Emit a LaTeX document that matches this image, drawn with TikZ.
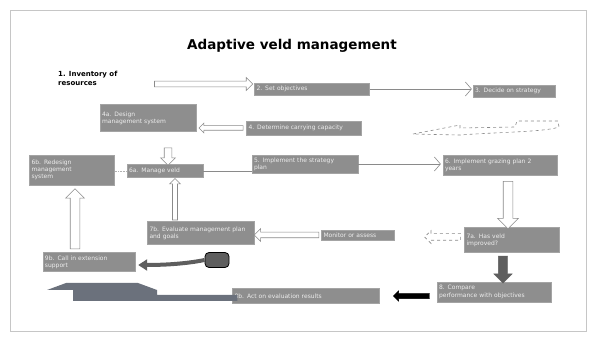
\documentclass[tikz,border=0pt]{standalone}
\usepackage{fontspec}
\setmainfont{DejaVu Sans}
\usetikzlibrary{calc,shapes.arrows,arrows.meta}
\definecolor{boxfill}{HTML}{8E8E8E}
\definecolor{boxdraw}{HTML}{A4A4A4}
\definecolor{boxtext}{HTML}{EDEDED}
\definecolor{arrline}{HTML}{8A8A8A}
\definecolor{darkarr}{HTML}{5E5E5E}
\definecolor{slatearr}{HTML}{6B717C}
\newcommand\boxfont{\fontsize{6}{7.3}\selectfont}
\newcommand\blockarr[3][]{%
  \path let \p1=(#2), \p2=(#3), \n1={atan2(\y2-\y1,\x2-\x1)}, \n2={veclen(\x2-\x1,\y2-\y1)} in
    node[#1, minimum height=\n2, rotate=\n1] at ($(#2)!0.5!(#3)$) {};}
\tikzset{
  bx/.style 2 args={draw=boxdraw, fill=boxfill, text=boxtext, font=\boxfont,
    inner xsep=2pt, inner ysep=0pt, minimum width=#1pt, minimum height=#2pt,
    text width=#1pt-4pt, align=left},
  harr/.style 2 args={single arrow, draw=arrline, fill=white, line width=0.6pt,
    inner xsep=0pt, inner ysep=#1, single arrow head extend=#2, single arrow head indent=0pt},
  sarr/.style n args={3}{single arrow, draw=#3, fill=#3, line width=0.4pt,
    inner xsep=0pt, inner ysep=#1, single arrow head extend=#2, single arrow head indent=0pt},
  conn/.style={draw=arrline, line width=0.6pt},
  chev/.style={conn, -{Straight Barb[length=6pt,width=14pt,line width=0.6pt]}},
}
\begin{document}
\begin{tikzpicture}[x=1pt,y=-1pt]
\useasboundingbox (0,0) rectangle (592,339);
\draw[gray!45, line width=0.8pt] (10,10) rectangle (586,331);

\node[font=\fontsize{13.5}{16}\selectfont\bfseries] (title) at (292,46) {Adaptive veld management};
\node[anchor=north west, font=\fontsize{7}{9}\selectfont\bfseries, align=left, inner sep=0pt] (t1) at (58,71) {1. Inventory of\\resources};

% boxes
\node[bx={115}{12}] (b2) at (312,89) {2. Set objectives};
\node[bx={82}{12}] (b3) at (514,91) {3. Decide on strategy};
\node[bx={96}{27}] (b4a) at (148,118) {4a. Design\\management system};
\node[bx={115}{14}] (b4) at (304,128) {4. Determine carrying capacity};
\node[bx={85}{30}] (b6b) at (72,170) {6b. Redesign\\management\\system};
\node[bx={76}{13}] (b6a) at (165,171) {6a. Manage veld};
\node[bx={106}{18}] (b5) at (305,164) {5. Implement the strategy\\plan};
\node[bx={114}{20}] (b6) at (500,165) {6. Implement grazing plan 2\\years};
\node[bx={95}{25}] (b7a) at (512,240) {7a. Has veld\\improved?};
\node[bx={73}{10}] (bmon) at (358,235) {Monitor or assess};
\node[bx={107}{23}] (b7b) at (201,233) {7b. Evaluate management plan\\and goals};
\node[bx={114}{20}] (b8) at (494,292) {8. Compare\\performance with objectives};
\node[bx={147}{15}] (b9) at (306,296) {8b. Act on evaluation results};
\node[bx={92}{19}] (b9b) at (89,262) {9b. Call in extension\\support};

% coordinates for free ends
\coordinate (a1s) at (153,84);
\coordinate (a1e) at ($(b2.west |- a1s)+(-3,0)$);
\coordinate (a3s) at ($(b4.west)+(-2,0)$);
\coordinate (a3e) at ($(b4a.east |- b4.west)+(4,0)$);
\coordinate (a5s) at (168,146);
\coordinate (a5e) at ($(a5s |- b6a.north)+(0,-1)$);
\coordinate (a9s) at (508,179);
\coordinate (a9e) at ($(a9s |- b7a.north)+(0,-1)$);
\coordinate (a10s) at ($(b7a.west)+(-2,-3)$);
\coordinate (a10e) at ($(a10s)+(-36,0)$);
\coordinate (a11s) at ($(bmon.west)+(-1,0)$);
\coordinate (a11e) at ($(b7b.east |- bmon.west)+(1,0)$);
\coordinate (a12s) at ($(b7b.north -| 175,0)$);
\coordinate (a12e) at ($(b6a.south -| 175,0)+(0,2)$);
\coordinate (a13s) at ($(b7a.south -| 503,0)+(0,1)$);
\coordinate (a13e) at ($(b8.north -| 503,0)+(0,-1)$);
\coordinate (a14s) at ($(b8.west)+(-6,4)$);
\coordinate (a14e) at ($(b9.east |- a14s)+(15,0)$);
\coordinate (a17s) at ($(b9b.north -| 75,0)+(0,-1)$);
\coordinate (a17e) at ($(b6b.south -| 75,0)+(0,6)$);
\coordinate (a16e) at ($(b9b.east)+(3,3)$);

% hollow block arrows
\blockarr[harr={2.6pt}{3.6pt}]{a1s}{a1e}
\blockarr[harr={2pt}{2.5pt}]{a3s}{a3e}
\blockarr[harr={3.5pt}{3.5pt}]{a5s}{a5e}
\blockarr[harr={4.5pt}{5.5pt}]{a9s}{a9e}
\blockarr[harr={3pt}{3pt},dashed]{a10s}{a10e}
\blockarr[harr={2.5pt}{3.5pt}]{a11s}{a11e}
\blockarr[harr={2.2pt}{3pt}]{a12s}{a12e}
\blockarr[harr={4.5pt}{4.5pt}]{a17s}{a17e}

% solid block arrows
\blockarr[sarr={4.5pt}{4.5pt}{darkarr}]{a13s}{a13e}
\blockarr[sarr={2.5pt}{2.5pt}{black}]{a14s}{a14e}

% line connectors
\draw[chev] (b2.east) -- ($(b2.east -| b3.west)+(-1,0)$);
\draw[chev] (b5.east) -- ($(b5.east -| b6.west)+(-2,0)$);
\draw[conn, densely dotted, gray!60] (b6b.east |- b6a.west) -- (b6a.west);
\draw[conn] (b6a.east) -- (b6a.east -| b5.west);

% curved dashed return arrow near step 3
\draw[dashed, draw=arrline, fill=white, line width=0.6pt]
  (413,134) -- (460,125) -- (460,128) -- (515,127) -- (517,121) -- (558,121) -- (559,127)
  .. controls (545,132) and (500,132) .. (460,135) -- cycle;

% dark curved arrow into 9b
\node[draw=black, fill=darkarr, rounded corners=4pt, minimum width=24pt, minimum height=15pt, line width=0.8pt, inner sep=0pt] (blob) at (217,260) {};
\draw[darkarr, line width=4pt, -{Triangle[length=9pt,width=11pt]}] (blob.west) .. controls (195,262) and (175,265) .. (a16e);

% big bent arrow along the bottom from 8b
\fill[slatearr] ($(b9.west)+(5,5)$) -- (73,301) -- (73,290) -- (47,290) -- (66,283) -- (138,283)
  -- (157,290) -- (157,295) -- ($(b9.west)+(5,-1)$) -- cycle;
\end{tikzpicture}
\end{document}
